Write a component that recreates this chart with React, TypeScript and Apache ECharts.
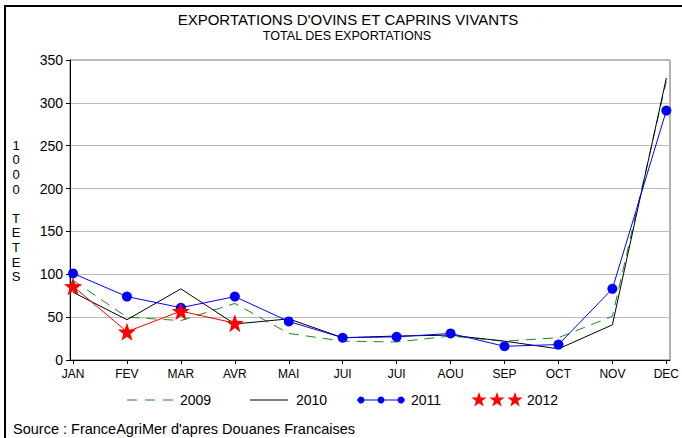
import React, { useEffect, useRef } from "react";
import * as echarts from "echarts";

const months = ["JAN", "FEV", "MAR", "AVR", "MAI", "JUI", "JUI", "AOU", "SEP", "OCT", "NOV", "DEC"];
const y2009 = [93, 50, 46, 66, 31, 22, 21, 28, 22, 26, 51, 325];
const y2010 = [79, 47, 83, 42, 48, 26, 28, 29, 22, 13, 41, 329];
const y2011 = [101, 74, 61, 74, 45, 26, 27, 31, 16, 18, 83, 291];
const y2012 = [86, 33, 57, 43];
const yTicks = { min: 0, max: 350, interval: 50 };

const FONT = "'Liberation Sans', Arial, sans-serif";

function starPoints(cx: number, cy: number, r: number): number[][] {
  const pts: number[][] = [];
  for (let i = 0; i < 10; i++) {
    const rad = i % 2 === 0 ? r : r * 0.4;
    const a = -Math.PI / 2 + (i * Math.PI) / 5;
    pts.push([cx + rad * Math.cos(a), cy + rad * Math.sin(a)]);
  }
  return pts;
}

function starPath(): string {
  const pts = starPoints(50, 50, 50);
  return "path://M" + pts.map((p) => p[0].toFixed(2) + "," + p[1].toFixed(2)).join("L") + "Z";
}

export default function App() {
  const ref = useRef<HTMLDivElement>(null);
  useEffect(() => {
    if (!ref.current) return;
    const chart = echarts.init(ref.current, null, { renderer: "svg" });
    const legendY = 400;
    const graphics: any[] = [
      // outer frame
      { type: "rect", shape: { x: 4, y: 5, width: 700, height: 2 }, style: { fill: "#000" } },
      { type: "rect", shape: { x: 4, y: 5, width: 2, height: 440 }, style: { fill: "#000" } },
      // title
      {
        type: "text", x: 348, y: 19,
        style: { text: "EXPORTATIONS D'OVINS ET CAPRINS VIVANTS", font: "15px " + FONT, fill: "#000", align: "center", verticalAlign: "middle" },
      },
      {
        type: "text", x: 347, y: 36,
        style: { text: "TOTAL DES EXPORTATIONS", font: "12.6px " + FONT, fill: "#000", align: "center", verticalAlign: "middle" },
      },
      // y axis name
      {
        type: "text", x: 16, y: 211,
        style: { text: "1\n0\n0\n0\n\nT\nE\nT\nE\nS", font: "13px " + FONT, lineHeight: 14.6, fill: "#000", align: "center", verticalAlign: "middle" },
      },
      // legend 2009
      { type: "line", shape: { x1: 127, y1: legendY, x2: 173, y2: legendY }, style: { stroke: "#1a8a1a", lineWidth: 1, lineDash: [10, 8] } },
      { type: "text", x: 180, y: legendY, style: { text: "2009", font: "14px " + FONT, fill: "#000", verticalAlign: "middle" } },
      // legend 2010
      { type: "line", shape: { x1: 250, y1: legendY, x2: 288, y2: legendY }, style: { stroke: "#000", lineWidth: 1 } },
      { type: "text", x: 296, y: legendY, style: { text: "2010", font: "14px " + FONT, fill: "#000", verticalAlign: "middle" } },
      // legend 2011
      { type: "line", shape: { x1: 357, y1: legendY, x2: 405, y2: legendY }, style: { stroke: "#0000ff", lineWidth: 1 } },
      { type: "circle", shape: { cx: 361, cy: legendY, r: 3.5 }, style: { fill: "#0000ff" } },
      { type: "circle", shape: { cx: 381, cy: legendY, r: 3.5 }, style: { fill: "#0000ff" } },
      { type: "circle", shape: { cx: 401, cy: legendY, r: 3.5 }, style: { fill: "#0000ff" } },
      { type: "text", x: 411, y: legendY, style: { text: "2011", font: "14px " + FONT, fill: "#000", verticalAlign: "middle" } },
      // legend 2012
      { type: "polygon", shape: { points: starPoints(479, legendY, 8) }, style: { fill: "#ff0000" } },
      { type: "polygon", shape: { points: starPoints(497, legendY, 8) }, style: { fill: "#ff0000" } },
      { type: "polygon", shape: { points: starPoints(515, legendY, 8) }, style: { fill: "#ff0000" } },
      { type: "text", x: 527, y: legendY, style: { text: "2012", font: "14px " + FONT, fill: "#000", verticalAlign: "middle" } },
      // source
      { type: "text", x: 13, y: 429, style: { text: "Source : FranceAgriMer d'apres Douanes Francaises", font: "14.5px " + FONT, fill: "#000", verticalAlign: "middle" } },
    ];

    chart.setOption({
      animation: false,
      backgroundColor: "#fff",
      graphic: graphics,
      grid: [
        { left: 70, top: 60, width: 600, height: 300, show: true, borderColor: "#666", borderWidth: 1 },
        { left: 73, top: 60, width: 594, height: 300 },
      ],
      xAxis: [
        { gridIndex: 0, type: "value", min: 0, max: 1, axisLine: { show: true, lineStyle: { color: "#000" } }, axisTick: { show: false }, axisLabel: { show: false }, splitLine: { show: false } },
        {
          gridIndex: 1, type: "category", data: months, boundaryGap: false,
          axisLine: { show: false },
          axisTick: { show: true, length: 4, inside: false, lineStyle: { color: "#000" } },
          axisLabel: { color: "#000", fontFamily: FONT, fontSize: 12, margin: 8, interval: 0 },
          splitLine: { show: false },
        },
      ],
      yAxis: [
        {
          gridIndex: 0, type: "value", min: yTicks.min, max: yTicks.max, interval: yTicks.interval,
          axisLine: { show: true, lineStyle: { color: "#000" } },
          axisTick: { show: true, length: 4, lineStyle: { color: "#000" } },
          axisLabel: { color: "#000", fontFamily: FONT, fontSize: 14, margin: 7 },
          splitLine: { show: true, lineStyle: { color: "#bbb", width: 1 } },
        },
        { gridIndex: 1, type: "value", min: yTicks.min, max: yTicks.max, interval: yTicks.interval, show: false, splitLine: { show: false } },
      ],
      series: [
        {
          name: "2009", type: "line", xAxisIndex: 1, yAxisIndex: 1, data: y2009, showSymbol: false, symbol: "none",
          lineStyle: { color: "#1a8a1a", width: 1, type: [10, 7] }, z: 2,
        },
        {
          name: "2010", type: "line", xAxisIndex: 1, yAxisIndex: 1, data: y2010, showSymbol: false, symbol: "none",
          lineStyle: { color: "#000", width: 1 }, z: 3,
        },
        {
          name: "2011", type: "line", xAxisIndex: 1, yAxisIndex: 1, data: y2011, symbol: "circle", symbolSize: 10,
          itemStyle: { color: "#0000ff" }, lineStyle: { color: "#0000ff", width: 1 }, z: 4,
        },
        {
          name: "2012", type: "line", xAxisIndex: 1, yAxisIndex: 1, data: y2012, symbol: starPath(), symbolSize: 18,
          itemStyle: { color: "#ff0000" }, lineStyle: { color: "#ff0000", width: 1 }, z: 5,
        },
      ],
    });
    return () => chart.dispose();
  }, []);
  return <div ref={ref} style={{ position: "fixed", left: 0, top: 0, width: 682, height: 438 }} />;
}
